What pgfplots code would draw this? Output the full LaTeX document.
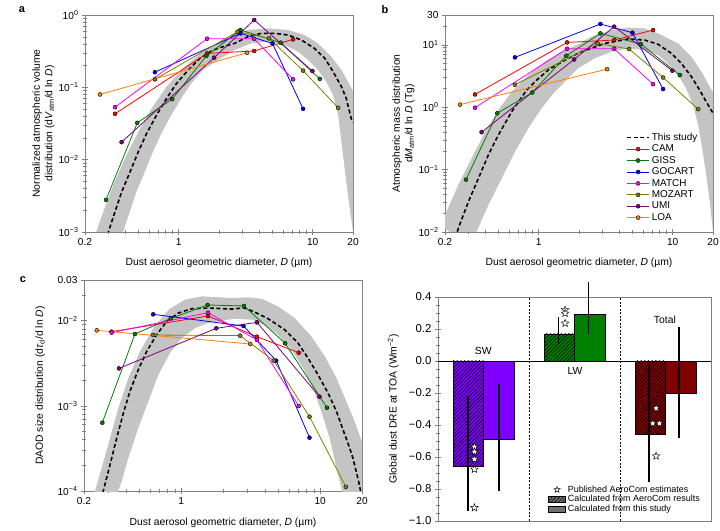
\documentclass[border=0pt]{standalone}
\usepackage{fontspec}
\setmainfont{Liberation Sans}
\usepackage{pgfplots}
\pgfplotsset{compat=1.18}
\usetikzlibrary{patterns,patterns.meta}

\definecolor{camc}{HTML}{FF0000}
\definecolor{gissc}{HTML}{008000}
\definecolor{gocc}{HTML}{0000FF}
\definecolor{matc}{HTML}{FF00FF}
\definecolor{mozc}{HTML}{808000}
\definecolor{umic}{HTML}{800080}
\definecolor{loac}{HTML}{FF8000}
\definecolor{bandc}{HTML}{C4C4C4}
\definecolor{framec}{HTML}{808080}
\definecolor{swc}{HTML}{8000FF}
\definecolor{lwc}{HTML}{008000}
\definecolor{totc}{HTML}{800000}
\definecolor{legc}{HTML}{707070}

\pgfdeclareplotmark{fivestar}{%
\pgfpathmoveto{\pgfpointpolar{90}{\pgfplotmarksize}}%
\pgfpathlineto{\pgfpointpolar{126}{0.42\pgfplotmarksize}}%
\pgfpathlineto{\pgfpointpolar{162}{\pgfplotmarksize}}%
\pgfpathlineto{\pgfpointpolar{198}{0.42\pgfplotmarksize}}%
\pgfpathlineto{\pgfpointpolar{234}{\pgfplotmarksize}}%
\pgfpathlineto{\pgfpointpolar{270}{0.42\pgfplotmarksize}}%
\pgfpathlineto{\pgfpointpolar{306}{\pgfplotmarksize}}%
\pgfpathlineto{\pgfpointpolar{342}{0.42\pgfplotmarksize}}%
\pgfpathlineto{\pgfpointpolar{18}{\pgfplotmarksize}}%
\pgfpathlineto{\pgfpointpolar{54}{0.42\pgfplotmarksize}}%
\pgfpathclose
\pgfusepathqfillstroke}

\newcommand{\fs}{\fontsize{10.4}{12.4}\selectfont}
\newcommand{\ft}{\fontsize{10.2}{12}\selectfont}

\pgfplotsset{
  every axis/.append style={scale only axis,
    axis line style={draw=framec, line width=0.5bp},
    tick style={draw=framec, line width=0.5bp},
    major tick length=6bp, minor tick length=3.5bp,
    tick align=center, xtick pos=left, ytick pos=left,
    tick label style={font=\ft}, label style={font=\fs}},
  myModel/.style={color=#1, line width=0.8bp, mark=*, mark size=2bp,
    mark options={draw=black, fill=#1, line width=0.4bp}},
  myBand/.style={fill=bandc, draw=none, forget plot},
  myStudy/.style={black, line width=1.6bp, dash pattern=on 4bp off 2.6bp},
  myHatch/.style={postaction={pattern={Lines[angle=45,distance=2.6bp,line width=0.55bp]}, pattern color=black}},
}

\begin{document}
\begin{tikzpicture}[x=1bp,y=1bp]
\useasboundingbox (0,0) rectangle (720,531);

% ---------------- panel a ----------------
\begin{axis}[anchor=south west, at={(85bp,299bp)}, width=268bp, height=217bp,
  xmode=log, ymode=log, xmin=0.2, xmax=20,
  xtick={0.2,1,10,20}, xticklabels={0.2,1,10,20},
  minor xtick={0.3,0.4,0.5,0.6,0.7,0.8,0.9,2,3,4,5,6,7,8,9},
  xlabel={Dust aerosol geometric diameter, \textit{D} (µm)},
  ymin=1e-3, ymax=1,
  ytick={0.001,0.01,0.1,1},
  yticklabels={10\textsuperscript{−3},10\textsuperscript{−2},10\textsuperscript{−1},10\textsuperscript{0}},
  minor ytick={0.002,0.003,0.004,0.005,0.006,0.007,0.008,0.009,0.02,0.03,0.04,0.05,0.06,0.07,0.08,0.09,0.2,0.3,0.4,0.5,0.6,0.7,0.8,0.9},
  ylabel={Normalized atmospheric volume\\distribution (d\textit{V}\textsubscript{atm}/d ln \textit{D})},
  ylabel style={align=center, at={(axis description cs:-0.155,0.5)}, anchor=center},
  xlabel style={at={(axis description cs:0.5,-0.143)}, anchor=center},
]
\addplot[myBand] coordinates {
(0.215,5e-4) (0.238,9.1e-4) (0.274,1.91e-3) (0.325,4.47e-3) (0.398,0.0105) (0.5,0.0244) (0.629,0.0513) (0.813,0.102) (1.05,0.174) (1.40,0.28) (2.03,0.428) (2.47,0.529) (3.29,0.621) (4.64,0.654) (6.55,0.621) (8.71,0.529) (10.96,0.406) (13.8,0.265) (16.4,0.174) (18.9,0.108) (21,0.075)
(21,5e-4) (20.0,1e-3) (19.2,1.72e-3) (17.8,4.97e-3) (16.6,0.0144) (15.5,0.0415) (14.2,0.078) (12.6,0.12) (10.96,0.174) (9.23,0.239) (7.78,0.311) (6.18,0.385) (4.64,0.428) (3.49,0.406) (2.62,0.328) (1.97,0.239) (1.52,0.174) (1.244,0.1136) (1.047,0.0705) (0.882,0.0415) (0.743,0.0231) (0.644,0.0129) (0.559,6.8e-3) (0.484,3.6e-3) (0.432,1.91e-3) (0.385,1e-3) (0.36,6e-4)
(0.215,5e-4)};
\addplot[myStudy] coordinates {
(0.285,7.5e-4) (0.299,1e-3) (0.335,1.91e-3) (0.376,3.6e-3) (0.434,6.8e-3) (0.5,0.0129) (0.577,0.0231) (0.685,0.0415) (0.813,0.0705) (0.966,0.1136) (1.18,0.174) (1.44,0.252) (1.81,0.328) (2.2,0.37) (2.62,0.406) (3.29,0.501) (4.14,0.558) (5.2,0.558) (6.54,0.529) (8.22,0.451) (10.3,0.346) (12.3,0.252) (14.2,0.165) (16.4,0.102) (17.8,0.0705) (19.4,0.037) (20,0.033)};
\addplot[myModel=camc] coordinates {(0.335,0.043) (1.63,0.294) (3.66,0.318) (7.14,0.46)};
\addplot[myModel=gissc] coordinates {(0.287,0.00278) (0.491,0.0323) (0.896,0.0687) (1.61,0.273) (2.89,0.62) (5.78,0.414) (11.3,0.131)};
\addplot[myModel=gocc] coordinates {(0.665,0.162) (2.89,0.557) (5.01,0.405) (8.48,0.0505)};
\addplot[myModel=matc] coordinates {(0.335,0.0532) (1.63,0.47) (3.66,0.47) (7.14,0.129)};
\addplot[myModel=mozc] coordinates {(0.665,0.129) (2.75,0.588) (4.73,0.475) (8.48,0.170) (15.5,0.0521)};
\addplot[myModel=umic] coordinates {(0.375,0.01745) (1.84,0.257) (3.66,0.853) (9.95,0.168)};
\addplot[myModel=loac] coordinates {(0.259,0.0797) (3.24,0.301)};
\end{axis}

% ---------------- panel b ----------------
\begin{axis}[anchor=south west, at={(445bp,299bp)}, width=268bp, height=217bp,
  xmode=log, ymode=log, xmin=0.2, xmax=20,
  xtick={0.2,1,10,20}, xticklabels={0.2,1,10,20},
  minor xtick={0.3,0.4,0.5,0.6,0.7,0.8,0.9,2,3,4,5,6,7,8,9},
  xlabel={Dust aerosol geometric diameter, \textit{D} (µm)},
  ymin=1e-2, ymax=30,
  ytick={0.01,0.1,1,10,30},
  yticklabels={10\textsuperscript{−2},10\textsuperscript{−1},10\textsuperscript{0},10\textsuperscript{1},30},
  minor ytick={0.02,0.03,0.04,0.05,0.06,0.07,0.08,0.09,0.2,0.3,0.4,0.5,0.6,0.7,0.8,0.9,2,3,4,5,6,7,8,9,20},
  ylabel={Atmospheric mass distribution\\d\textit{M}\textsubscript{atm}/d ln \textit{D} (Tg)},
  ylabel style={align=center, at={(axis description cs:-0.155,0.5)}, anchor=center},
  xlabel style={at={(axis description cs:0.5,-0.143)}, anchor=center},
  legend style={at={(axis description cs:0.672,0.47)}, anchor=north west, draw=none, fill=none, font=\fontsize{10}{12}\selectfont, row sep=-1bp, inner sep=1bp, cells={anchor=west}},
  legend image code/.code={\draw[mark repeat=2,mark phase=2,#1] plot coordinates {(0bp,0bp) (11bp,0bp) (22bp,0bp)};},
]
\addplot[myBand] coordinates {
(0.19,0.012) (0.2,0.0187) (0.251,0.0566) (0.316,0.151) (0.398,0.404) (0.5,0.90) (0.629,1.77) (0.837,3.27) (1.11,5.36) (1.49,7.74) (2.03,10.5) (2.47,13.5) (3.49,17.3) (4.64,18.8) (6.18,18.3) (7.79,15.2) (10.96,10.5) (13.8,6.44) (16.4,3.7) (18.9,2.13) (21,1.45)
(21,6e-3) (20,0.0101) (18.9,0.0306) (17.8,0.0818) (16.6,0.219) (15.5,0.518) (14.2,1.08) (12.6,2.0) (10.96,3.27) (9.23,5.04) (7.78,6.85) (6.18,8.24) (4.64,8.77) (3.49,7.74) (2.62,6.07) (1.97,4.19) (1.66,2.9) (1.32,1.77) (1.05,0.957) (0.837,0.458) (0.666,0.194) (0.53,0.0723) (0.421,0.027) (0.344,0.0101) (0.32,6e-3)
(0.19,0.012)};
\addplot[myStudy] coordinates {
(0.24,8e-3) (0.251,0.0114) (0.299,0.0306) (0.355,0.0723) (0.421,0.171) (0.5,0.358) (0.629,0.847) (0.813,1.88) (0.966,2.72) (1.18,3.94) (1.53,5.50) (2.03,7.57) (2.47,8.77) (3.11,10.5) (4.65,12.4) (6.18,11.9) (7.77,10.2) (9.77,7.3) (11.6,5.04) (13.8,3.08) (15.9,1.88) (17.8,1.22) (20,0.80)};
\addlegendentry{This study}
\addplot[myModel=camc] coordinates {(0.335,1.60) (1.63,10.9) (3.66,11.9) (7.14,17.2)};
\addlegendentry{CAM}
\addplot[myModel=gissc] coordinates {(0.287,0.069) (0.491,0.80) (0.896,1.72) (1.61,6.67) (2.89,15.2) (5.78,10.3) (11.3,3.27)};
\addlegendentry{GISS}
\addplot[myModel=gocc] coordinates {(0.665,6.28) (2.89,21.5) (5.01,15.6) (8.48,1.95)};
\addlegendentry{GOCART}
\addplot[myModel=matc] coordinates {(0.335,0.98) (1.63,8.64) (3.66,8.64) (7.14,2.34)};
\addlegendentry{MATCH}
\addplot[myModel=mozc] coordinates {(0.665,2.29) (2.75,10.5) (4.73,8.54) (8.48,2.99) (15.5,0.93)};
\addlegendentry{MOZART}
\addplot[myModel=umic] coordinates {(0.375,0.397) (1.84,5.82) (3.66,19.5) (9.95,3.84)};
\addlegendentry{UMI}
\addplot[myModel=loac] coordinates {(0.259,1.10) (3.24,4.07)};
\addlegendentry{LOA}
\end{axis}

% ---------------- panel c ----------------
\begin{axis}[anchor=south west, at={(84bp,40bp)}, width=278bp, height=211bp,
  xmode=log, ymode=log, xmin=0.2, xmax=20,
  xtick={0.2,1,10,20}, xticklabels={0.2,1,10,20},
  minor xtick={0.3,0.4,0.5,0.6,0.7,0.8,0.9,2,3,4,5,6,7,8,9},
  xlabel={Dust aerosol geometric diameter, \textit{D} (µm)},
  ymin=1e-4, ymax=0.03,
  ytick={0.0001,0.001,0.01,0.03},
  yticklabels={10\textsuperscript{−4},10\textsuperscript{−3},10\textsuperscript{−2},0.03},
  minor ytick={0.0002,0.0003,0.0004,0.0005,0.0006,0.0007,0.0008,0.0009,0.002,0.003,0.004,0.005,0.006,0.007,0.008,0.009,0.02},
  ylabel={DAOD size distribution (d\textit{τ}\textsubscript{d}/d ln \textit{D})},
  ylabel style={at={(axis description cs:-0.158,0.5)}, anchor=center},
  xlabel style={at={(axis description cs:0.5,-0.152)}, anchor=center},
]
\addplot[myBand] coordinates {
(0.225,6e-5) (0.240,1e-4) (0.268,1.86e-4) (0.308,4.19e-4) (0.353,9.4e-4) (0.417,2.12e-3) (0.506,4.36e-3) (0.631,8.18e-3) (0.809,0.0134) (1.06,0.0176) (1.40,0.0193) (1.90,0.0188) (2.30,0.0184) (3.03,0.0188) (3.78,0.0181) (4.98,0.0147) (6.56,0.0107) (8.64,6.54e-3) (10.8,3.81e-3) (13.1,2.12e-3) (15.4,1.13e-3) (17.7,6.58e-4) (21,3e-4)
(21,5e-5) (15.0,6e-5) (14.4,1e-4) (13.1,1.86e-4) (11.7,4.19e-4) (10.2,8.6e-4) (8.87,1.62e-3) (7.53,2.78e-3) (6.21,4.56e-3) (4.98,6.84e-3) (3.99,8.95e-3) (3.20,0.01025) (2.43,0.01054) (1.84,9.8e-3) (1.57,9.4e-3) (1.26,8.18e-3) (1.01,6.25e-3) (0.832,4.17e-3) (0.686,2.32e-3) (0.581,1.13e-3) (0.492,5.5e-4) (0.417,2.44e-4) (0.373,1.3e-4) (0.353,1e-4) (0.335,6e-5)
(0.225,6e-5)};
\addplot[myStudy] coordinates {
(0.268,8e-5) (0.275,1e-4) (0.308,2.04e-4) (0.344,4.19e-4) (0.384,8.22e-4) (0.428,1.48e-3) (0.492,2.66e-3) (0.565,4.36e-3) (0.667,6.84e-3) (0.787,9.8e-3) (0.953,0.01227) (1.19,0.0138) (1.57,0.01406) (2.30,0.01368) (2.86,0.0141) (3.38,0.0126) (4.22,0.01054) (5.56,7.83e-3) (6.93,5.46e-3) (8.17,3.64e-3) (9.64,2.32e-3) (11.4,1.41e-3) (13.1,8.6e-4) (14.6,5.25e-4) (16.3,3.2e-4) (17.2,2.44e-4) (18.9,1.3e-4) (19.8,9e-5)};
\addplot[myModel=camc] coordinates {(0.316,7.42e-3) (1.56,0.01133) (3.51,6.48e-3) (7.01,4.21e-3)};
\addplot[myModel=gissc] coordinates {(0.271,6.34e-4) (0.465,6.97e-3) (0.842,0.01063) (1.55,0.01527) (2.83,0.01486) (5.6,5.42e-3) (11.2,9.5e-4)};
\addplot[myModel=gocc] coordinates {(0.629,0.01186) (2.81,8.65e-3) (4.83,3.39e-3) (8.38,4.23e-4)};
\addplot[myModel=matc] coordinates {(0.316,7.23e-3) (1.56,0.01241) (3.51,5.93e-3) (7.01,9.95e-4)};
\addplot[myModel=mozc] coordinates {(0.629,6.78e-3) (2.66,6.67e-3) (4.63,3.39e-3) (8.38,7.46e-4) (15.3,1.12e-4)};
\addplot[myModel=umic] coordinates {(0.357,2.75e-3) (1.79,8.13e-3) (3.51,9.55e-3) (9.89,1.28e-3)};
\addplot[myModel=loac] coordinates {(0.247,7.69e-3) (3.14,5.32e-3)};
\end{axis}

% ---------------- panel d ----------------
\begin{axis}[anchor=south west, at={(438bp,10bp)}, width=273bp, height=224bp,
  xmin=0, xmax=9, ymin=-1, ymax=0.4, xtick=\empty,
  ytick={-1,-0.8,-0.6,-0.4,-0.2,0,0.2,0.4},
  yticklabels={−1.0,−0.8,−0.6,−0.4,−0.2,0.0,0.2,0.4},
  yticklabel style={font=\fontsize{11.5}{13}\selectfont},
  minor y tick num=3, clip=false,
  ylabel={Global dust DRE at TOA (Wm\textsuperscript{−2})},
  ylabel style={at={(axis description cs:-0.164,0.5)}, anchor=center},
  legend style={at={(axis description cs:0.40,0.172)}, anchor=north west, draw=none, fill=none, font=\fontsize{9}{10.5}\selectfont, row sep=-2.2bp, inner sep=1bp, cells={anchor=west}},
]
\addplot[black, dash pattern=on 2bp off 1.5bp, line width=0.7bp, forget plot] coordinates {(3,-1) (3,0.4)};
\addplot[black, dash pattern=on 2bp off 1.5bp, line width=0.7bp, forget plot] coordinates {(6,-1) (6,0.4)};
\addplot[ybar, bar width=1, bar shift=0pt, draw=black, line width=0.5bp, fill=swc, myHatch, forget plot] coordinates {(1,-0.66)};
\addplot[ybar, bar width=1, bar shift=0pt, draw=black, line width=0.5bp, fill=swc, forget plot] coordinates {(2,-0.49)};
\addplot[ybar, bar width=1, bar shift=0pt, draw=black, line width=0.5bp, fill=lwc, myHatch, forget plot] coordinates {(4,0.17)};
\addplot[ybar, bar width=1, bar shift=0pt, draw=black, line width=0.5bp, fill=lwc, forget plot] coordinates {(5,0.29)};
\addplot[ybar, bar width=1, bar shift=0pt, draw=black, line width=0.5bp, fill=totc, myHatch, forget plot] coordinates {(7,-0.46)};
\addplot[ybar, bar width=1, bar shift=0pt, draw=black, line width=0.5bp, fill=totc, forget plot] coordinates {(8,-0.20)};
\addplot[black, line width=0.7bp, forget plot] coordinates {(0,0) (9,0)};
\addplot[black, line width=1.8bp, forget plot] coordinates {(1,-0.221) (1,-0.94)};
\addplot[black, line width=1.8bp, forget plot] coordinates {(2,-0.146) (2,-0.815)};
\addplot[black, line width=1.8bp, forget plot] coordinates {(3.97,0.275) (3.97,0.115)};
\addplot[black, line width=1.8bp, forget plot] coordinates {(4.96,0.494) (4.96,0.171)};
\addplot[black, line width=1.8bp, forget plot] coordinates {(6.96,-0.023) (6.96,-0.756)};
\addplot[black, line width=1.8bp, forget plot] coordinates {(7.95,0.2125) (7.95,-0.48)};
\addplot[only marks, mark=fivestar, mark size=4bp, mark options={fill=white, draw=black, line width=0.45bp}, forget plot] coordinates {
(1.2,-0.536) (1.2,-0.567) (1.2,-0.614) (1.2,-0.677) (1.2,-0.917)
(4.19,0.319) (4.19,0.298) (4.19,0.236)
(7.19,-0.296) (7.08,-0.39) (7.30,-0.39) (7.19,-0.594)};
\node[font=\fs] at (axis cs:1.49,0.064) {SW};
\node[font=\fs] at (axis cs:4.52,-0.06) {LW};
\node[font=\fs] at (axis cs:7.48,0.256) {Total};
\addlegendimage{only marks, mark=fivestar, mark size=3.2bp, mark options={fill=white, draw=black, line width=0.45bp}}
\addlegendentry{Published AeroCom estimates}
\addlegendimage{area legend, draw=black, line width=0.4bp, fill=legc, myHatch}
\addlegendentry{Calculated from AeroCom results}
\addlegendimage{area legend, draw=black, line width=0.4bp, fill=legc}
\addlegendentry{Calculated from this study}
\end{axis}

\node[font=\fontsize{11}{12}\selectfont\bfseries] at (22,521) {a};
\node[font=\fontsize{11}{12}\selectfont\bfseries] at (385,521) {b};
\node[font=\fontsize{11}{12}\selectfont\bfseries] at (23,251) {c};
\end{tikzpicture}
\end{document}
